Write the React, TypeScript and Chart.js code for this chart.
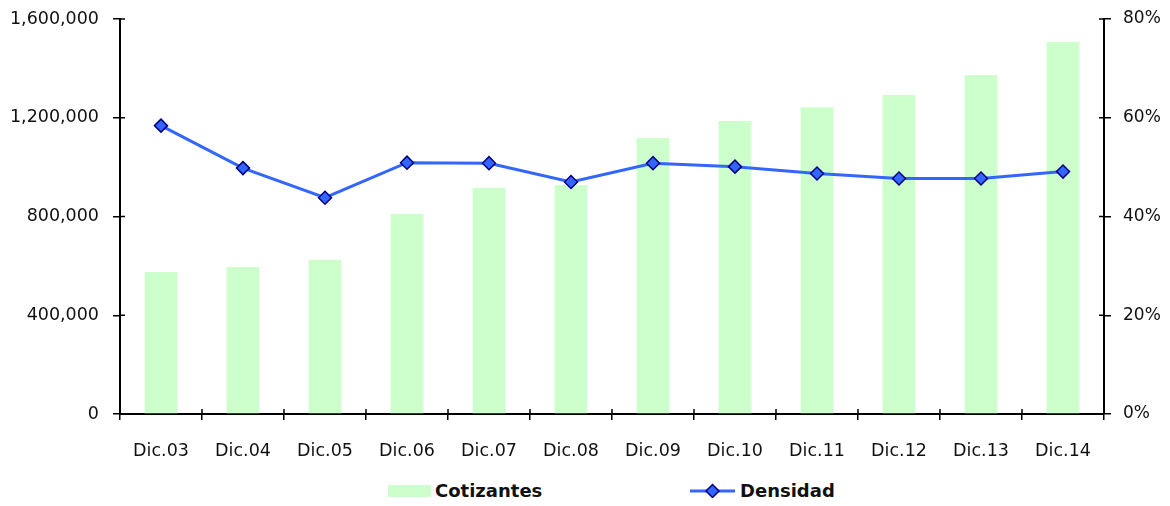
import React, { useEffect, useRef } from "react";
import { Chart, registerables } from "chart.js";

Chart.register(...registerables);

const categories = ["Dic.03", "Dic.04", "Dic.05", "Dic.06", "Dic.07", "Dic.08", "Dic.09", "Dic.10", "Dic.11", "Dic.12", "Dic.13", "Dic.14"];
const cotizantes = [575000, 595000, 624000, 810000, 915000, 928000, 1118000, 1187000, 1243000, 1292000, 1373000, 1507000];
const densidad = [58.4, 49.8, 43.8, 50.9, 50.8, 47.0, 50.8, 50.1, 48.7, 47.7, 47.7, 49.1];
const leftTicks = [0, 400000, 800000, 1200000, 1600000];
const rightTicks = [0, 20, 40, 60, 80];

const FONT = "'DejaVu Sans', sans-serif";

const innerTicks = {
  id: "innerTicks",
  afterDraw(chart: any) {
    const { ctx, chartArea } = chart;
    const y = chart.scales.y;
    const y1 = chart.scales.y1;
    ctx.save();
    ctx.strokeStyle = "#000";
    ctx.lineWidth = 1.5;
    ctx.beginPath();
    y.ticks.forEach((_t: any, i: number) => {
      const py = y.getPixelForTick(i);
      ctx.moveTo(chartArea.left, py);
      ctx.lineTo(chartArea.left + 5, py);
    });
    y1.ticks.forEach((_t: any, i: number) => {
      const py = y1.getPixelForTick(i);
      ctx.moveTo(chartArea.right, py);
      ctx.lineTo(chartArea.right - 5, py);
    });
    const n = categories.length;
    const w = (chartArea.right - chartArea.left) / n;
    for (let i = 0; i <= n; i++) {
      const px = chartArea.left + i * w;
      ctx.moveTo(px, chartArea.bottom);
      ctx.lineTo(px, chartArea.bottom - 5);
    }
    ctx.stroke();
    ctx.restore();
  },
};

export default function App() {
  const ref = useRef<HTMLCanvasElement>(null);
  useEffect(() => {
    if (!ref.current) return;
    const chart = new Chart(ref.current, {
      type: "bar",
      data: {
        labels: categories,
        datasets: [
          {
            type: "line",
            label: "Densidad",
            data: densidad,
            yAxisID: "y1",
            borderColor: "#3366FF",
            borderWidth: 3,
            pointStyle: "rectRot",
            pointRadius: 6.5,
            pointBackgroundColor: "#3366FF",
            pointBorderColor: "#000080",
            pointBorderWidth: 1.5,
            tension: 0,
            order: 0,
          } as any,
          {
            type: "bar",
            label: "Cotizantes",
            data: cotizantes,
            yAxisID: "y",
            backgroundColor: "#CCFFCC",
            categoryPercentage: 1,
            barPercentage: 0.4,
            order: 1,
          },
        ],
      },
      options: {
        animation: false,
        responsive: false,
        maintainAspectRatio: false,
        layout: { padding: { top: 11, left: 0, right: 0, bottom: 0 } },
        plugins: { legend: { display: false }, tooltip: { enabled: false } },
        scales: {
          x: {
            offset: true,
            grid: { display: true, drawOnChartArea: false, offset: true, tickLength: 6, color: "#000", lineWidth: 1.5 },
            border: { color: "#000", width: 2 },
            ticks: { color: "#111", font: { family: FONT, size: 17.5 }, padding: 21, maxRotation: 0 },
            afterFit(s: any) { s.height = 54; s.paddingLeft = 0; s.paddingRight = 0; },
          },
          y: {
            position: "left",
            min: 0,
            max: 1600000,
            afterBuildTicks(s: any) { s.ticks = leftTicks.map((v) => ({ value: v })); },
            grid: { drawOnChartArea: false, tickLength: 7, color: "#000", lineWidth: 1.5 },
            border: { color: "#000", width: 2 },
            ticks: {
              color: "#111",
              font: { family: FONT, size: 17.5 },
              padding: 14,
              callback: (v: any) => Number(v).toLocaleString("en-US"),
            },
            afterFit(s: any) { s.width = 112; s.paddingTop = 0; s.paddingBottom = 0; },
          },
          y1: {
            position: "right",
            min: 0,
            max: 80,
            afterBuildTicks(s: any) { s.ticks = rightTicks.map((v) => ({ value: v })); },
            grid: { drawOnChartArea: false, tickLength: 7, color: "#000", lineWidth: 1.5 },
            border: { color: "#000", width: 2 },
            ticks: {
              color: "#111",
              font: { family: FONT, size: 17 },
              padding: 12,
              callback: (v: any) => v + "%",
            },
            afterFit(s: any) { s.width = 58; s.paddingTop = 0; s.paddingBottom = 0; },
          },
        },
      },
      plugins: [innerTicks],
    });
    return () => chart.destroy();
  }, []);

  const textStyle: React.CSSProperties = {
    position: "absolute",
    fontFamily: FONT,
    fontWeight: "bold",
    fontSize: 18,
    color: "#111",
    lineHeight: "20px",
    top: 473,
  };

  return (
    <div style={{ position: "relative", width: 1154, height: 490 }}>
      <canvas ref={ref} width={1154} height={460} style={{ display: "block", width: 1154, height: 460 }} />
      <div style={{ position: "absolute", left: 380, top: 477, width: 43, height: 12, background: "#CCFFCC" }} />
      <div style={{ ...textStyle, left: 427 }}>Cotizantes</div>
      <svg style={{ position: "absolute", left: 682, top: 474 }} width={46} height={18}>
        <line x1={0} y1={9} x2={45} y2={9} stroke="#3366FF" strokeWidth={3} />
        <polygon points="22.5,2.5 29,9 22.5,15.5 16,9" fill="#3366FF" stroke="#000080" strokeWidth={1.5} />
      </svg>
      <div style={{ ...textStyle, left: 732 }}>Densidad</div>
    </div>
  );
}
